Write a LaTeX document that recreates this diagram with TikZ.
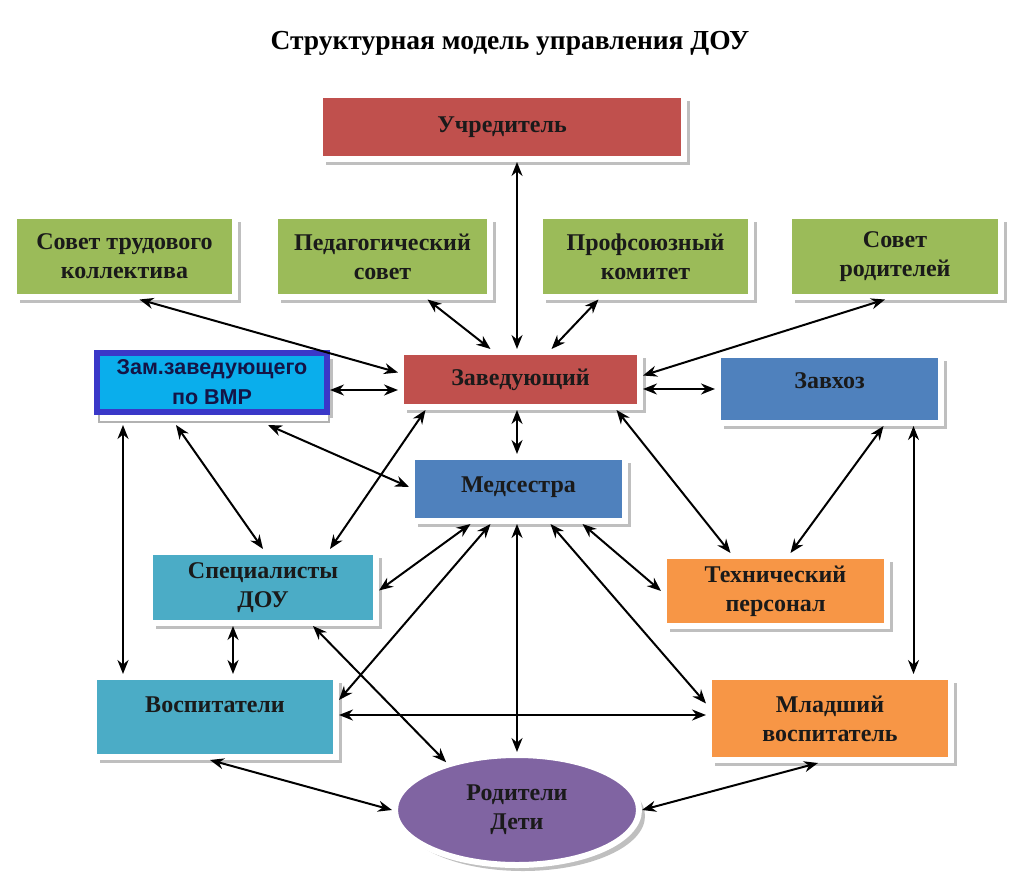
\documentclass[tikz,border=0pt]{standalone}
\usepackage{fontspec}
\setmainfont{Liberation Serif}
\newfontfamily\zamfont{Liberation Sans}
\usetikzlibrary{shapes.geometric}
\usetikzlibrary{shadows}
\usetikzlibrary{arrows.meta}

\definecolor{redbox}{HTML}{C0504D}
\definecolor{greenbox}{HTML}{9BBB59}
\definecolor{bluebox}{HTML}{4F81BD}
\definecolor{tealbox}{HTML}{4BACC6}
\definecolor{orangebox}{HTML}{F79646}
\definecolor{purplebox}{HTML}{8064A2}
\definecolor{zamfill}{HTML}{0AAEEC}
\definecolor{zamborder}{HTML}{3A38C8}
\definecolor{textdark}{HTML}{1A1A1A}

\tikzset{
  box/.style={rectangle, draw=white, line width=6pt, align=center, inner sep=2pt,
    text=textdark, font=\fontsize{24}{29}\selectfont\bfseries,
    drop shadow={shadow xshift=6pt, shadow yshift=-6pt, fill=gray!50, opacity=1}},
  link/.style={<->, >={Stealth[length=14pt,width=11pt]}, line width=2pt, black},
}

\begin{document}
\begin{tikzpicture}[x=1pt,y=-1pt]
  \useasboundingbox (0,0) rectangle (1024,885);
  \node[font=\fontsize{27.5}{32}\selectfont\bfseries] (title) at (510,43) {Структурная модель управления ДОУ};

% top level
  \node[box, fill=redbox, minimum width=364pt, minimum height=64pt] (uchr) at (502,127) {Учредитель};
  \node[box, fill=greenbox, minimum width=221pt, minimum height=80pt] (stk) at (124.5,256.5) {Совет трудового\\коллектива};
  \node[box, fill=greenbox, minimum width=215pt, minimum height=80pt] (ped) at (382.5,256.5) {Педагогический\\совет};
  \node[box, fill=greenbox, minimum width=211pt, minimum height=80pt] (prof) at (645.5,256.5) {Профсоюзный\\комитет};
  \node[box, fill=greenbox, minimum width=212pt, minimum height=80pt] (sovrod) at (895,256.5) {Совет\\родителей};

% management
  \node[box, draw=zamborder, fill=zamfill, minimum width=230pt, minimum height=59pt,
    font=\zamfont\fontsize{21.5}{30}\selectfont\bfseries, text=zamborder!35!black,
    drop shadow={shadow xshift=2pt, shadow yshift=-10pt, fill=white, draw=gray!60, line width=2pt, opacity=1}]
    (zam) at (212,382.5) {Зам.заведующего\\по ВМР};
  \node[box, fill=redbox, minimum width=239pt, minimum height=55pt] (zav) at (520.5,379.5) {Заведующий};
  \node[box, fill=bluebox, minimum width=223pt, minimum height=68pt, text height=16pt, text depth=18pt] (zavhoz) at (829.5,389) {Завхоз};
  \node[box, fill=bluebox, minimum width=213pt, minimum height=64pt, text height=16pt, text depth=10pt] (med) at (518.5,489) {Медсестра};

% staff
  \node[box, fill=tealbox, minimum width=226pt, minimum height=71pt] (spec) at (263,587.5) {Специалисты\\ДОУ};
  \node[box, fill=orangebox, minimum width=223pt, minimum height=70pt] (tech) at (775.5,591) {Технический\\персонал};
  \node[box, fill=tealbox, minimum width=242pt, minimum height=80pt, text height=16pt, text depth=26pt] (vosp) at (215,717) {Воспитатели};
  \node[box, fill=orangebox, minimum width=242pt, minimum height=83pt] (mlad) at (830,718.5) {Младший\\воспитатель};
  \node[box, ellipse, fill=purplebox, minimum width=244pt, minimum height=110pt, inner sep=0pt] (rod) at (517,810) {Родители\\Дети};

% links to the head
  \draw[link] (uchr.south -| rod) -- (zav.north -| rod);
  \draw[link] ([xshift=15pt]stk.south) -- ([yshift=7pt]zav.west);
  \draw[link] ([xshift=45pt]ped.south) -- ([xshift=-30pt]zav.north);
  \draw[link] ([xshift=-47pt]prof.south) -- ([xshift=31pt]zav.north);
  \draw[link] ([xshift=-10pt]sovrod.south) -- ([yshift=4pt]zav.east);
  \draw[link] ([yshift=-10.5pt]zav.west) coordinate (p1) -- (p1 -| zam.east);
  \draw[link] (zavhoz.west) -- (zavhoz.west -| zav.east);
  \draw[link] (zav.south -| rod) -- (med.north -| rod);
  \draw[link] ([xshift=-95pt]zav.south) -- ([xshift=67pt]spec.north);
  \draw[link] ([xshift=96pt]zav.south) -- ([xshift=-45pt]tech.north);

% deputy and supply manager
  \draw[link] ([xshift=56pt,yshift=-10pt]zam.south) -- ([yshift=2pt]med.west);
  \draw[link] ([xshift=-36pt,yshift=-10pt]zam.south) -- (spec.north);
  \draw[link] ([xshift=-89pt,yshift=-10pt]zam.south) coordinate (p2) -- (p2 |- vosp.north);
  \draw[link] ([xshift=54pt]zavhoz.south) -- ([xshift=15pt]tech.north);
  \draw[link] ([xshift=84pt]zavhoz.south) coordinate (p3) -- (p3 |- mlad.north);

% nurse
  \draw[link] ([xshift=-48pt]med.south) -- ([yshift=-3pt]spec.east);
  \draw[link] ([xshift=-28pt]med.south) -- ([yshift=17pt]vosp.east);
  \draw[link] (med.south -| rod) -- (rod.north);
  \draw[link] ([xshift=32pt]med.south) -- ([yshift=15pt]mlad.west);
  \draw[link] ([xshift=64pt]med.south) -- (tech.west);

% bottom
  \draw[link] ([xshift=-30pt]spec.south) coordinate (p4) -- (p4 |- vosp.north);
  \draw[link] ([xshift=50pt]spec.south) -- (rod.146);
  \draw[link] ([yshift=2pt]vosp.east) coordinate (p5) -- (p5 -| mlad.west);
  \draw[link] ([xshift=-5pt]vosp.south) -- (rod.west);
  \draw[link] ([xshift=-12pt]mlad.south) -- (rod.east);
\end{tikzpicture}
\end{document}
